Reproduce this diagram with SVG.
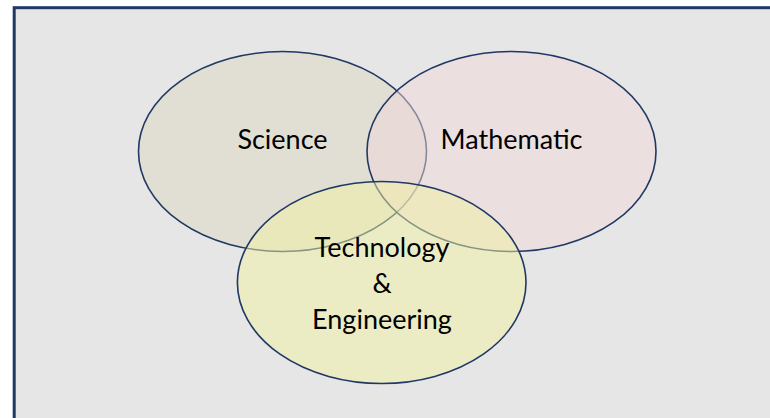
<svg xmlns="http://www.w3.org/2000/svg" width="770" height="418" viewBox="0 0 770 418">
  <style>
    .set { stroke: #1f3864; stroke-width: 1.6; fill-opacity: 0.5; }
    .label { font-family: Lato, "Liberation Sans", sans-serif; font-size: 27px; fill: #000; text-anchor: middle; }
  </style>
  <!-- page and panel -->
  <rect x="0" y="0" width="770" height="418" fill="#ffffff"/>
  <rect x="14.2" y="7.7" width="780" height="430" fill="#e6e6e6" stroke="#1f3864" stroke-width="3"/>

  <g id="science">
    <ellipse class="set" cx="282.5" cy="151.5" rx="144" ry="100" fill="#dcd8c2"/>
    <text class="label" x="282.5" y="149">Science</text>
  </g>

  <g id="mathematic">
    <ellipse class="set" cx="511.5" cy="151.5" rx="144.5" ry="100" fill="#f0d8da"/>
    <text class="label" x="511.5" y="149">Mathematic</text>
  </g>

  <g id="technology-engineering">
    <ellipse class="set" cx="381.7" cy="282.5" rx="144.3" ry="101" fill="#f2f2a2"/>
    <text class="label" x="382" y="257">Technology</text>
    <text class="label" x="382" y="293">&amp;</text>
    <text class="label" x="382" y="328.5">Engineering</text>
  </g>

  <g id="connectors"/>
</svg>
